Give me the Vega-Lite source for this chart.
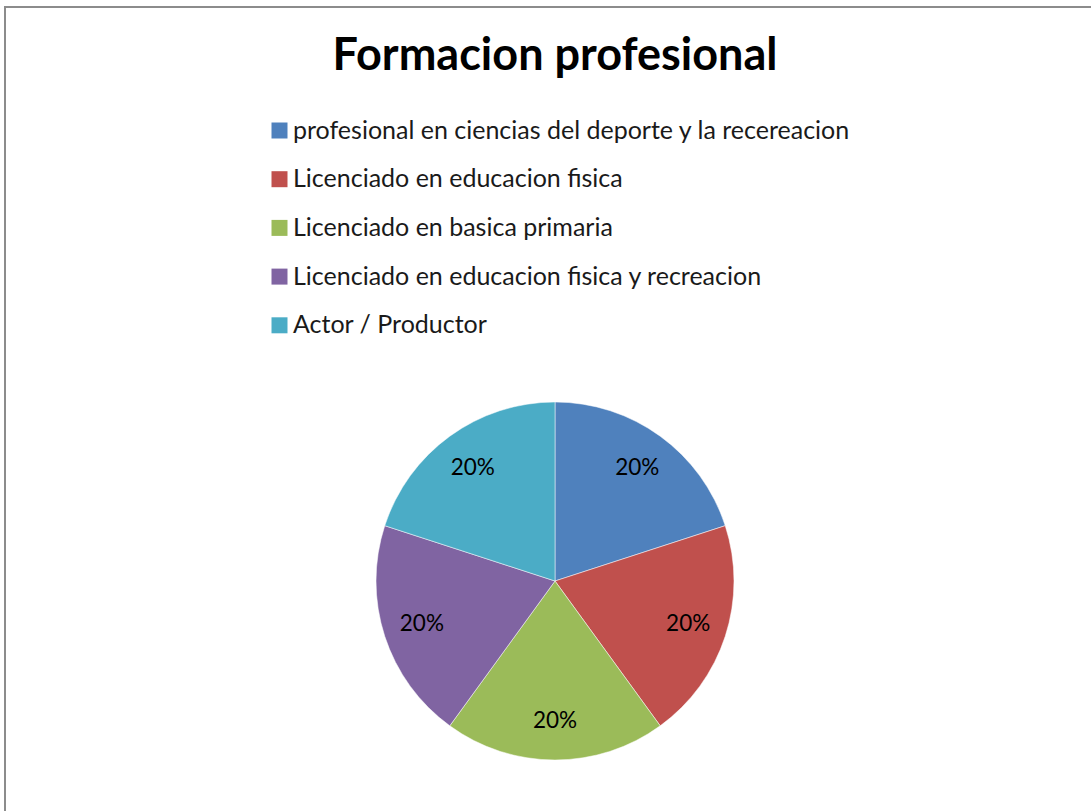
{
  "$schema": "https://vega.github.io/schema/vega-lite/v6.json",
  "autosize": "none",
  "padding": {"left": 5, "top": 7, "right": 0, "bottom": 0},
  "width": 1100,
  "height": 1148,
  "background": "white",
  "view": {"stroke": "#8c8c8c", "strokeWidth": 2},
  "config": {
    "font": "Lato"
  },
  "title": {
    "text": "Formacion profesional",
    "font": "Lato",
    "fontSize": 45,
    "fontWeight": "bold",
    "color": "#000000",
    "anchor": "middle",
    "frame": "group",
    "baseline": "alphabetic",
    "offset": -108
  },
  "data": {
    "values": [
      {"formacion": "profesional en ciencias del deporte y la recereacion", "valor": 0.2, "orden": 1},
      {"formacion": "Licenciado en educacion fisica", "valor": 0.2, "orden": 2},
      {"formacion": "Licenciado en basica primaria", "valor": 0.2, "orden": 3},
      {"formacion": "Licenciado en educacion fisica y recreacion", "valor": 0.2, "orden": 4},
      {"formacion": "Actor / Productor", "valor": 0.2, "orden": 5}
    ]
  },
  "encoding": {
    "theta": {"field": "valor", "type": "quantitative", "stack": true},
    "order": {"field": "orden", "type": "quantitative"}
  },
  "layer": [
    {
      "mark": {"type": "arc", "radius": 179, "stroke": "#ffffff", "strokeWidth": 0.5},
      "encoding": {
        "color": {
          "field": "formacion",
          "type": "nominal",
          "sort": null,
          "scale": {
            "domain": [
              "profesional en ciencias del deporte y la recereacion",
              "Licenciado en educacion fisica",
              "Licenciado en basica primaria",
              "Licenciado en educacion fisica y recreacion",
              "Actor / Productor"
            ],
            "range": ["#4F81BD", "#C0504D", "#9BBB59", "#8064A2", "#4BACC6"]
          },
          "legend": {
            "title": null,
            "orient": "none",
            "legendX": 262,
            "legendY": 111,
            "padding": 0,
            "symbolType": "square",
            "symbolSize": 256,
            "symbolStrokeWidth": 0,
            "symbolOpacity": 1,
            "labelFont": "Lato",
            "labelFontSize": 25,
            "labelColor": "#1a1a1a",
            "labelOffset": 1,
            "labelLimit": 800,
            "rowPadding": 22.7
          }
        }
      }
    },
    {
      "mark": {"type": "text", "radius": 140, "font": "Lato", "fontSize": 22.5, "color": "#000000", "baseline": "middle", "align": "center"},
      "encoding": {
        "text": {"field": "valor", "type": "quantitative", "format": ".0%"}
      }
    }
  ]
}
